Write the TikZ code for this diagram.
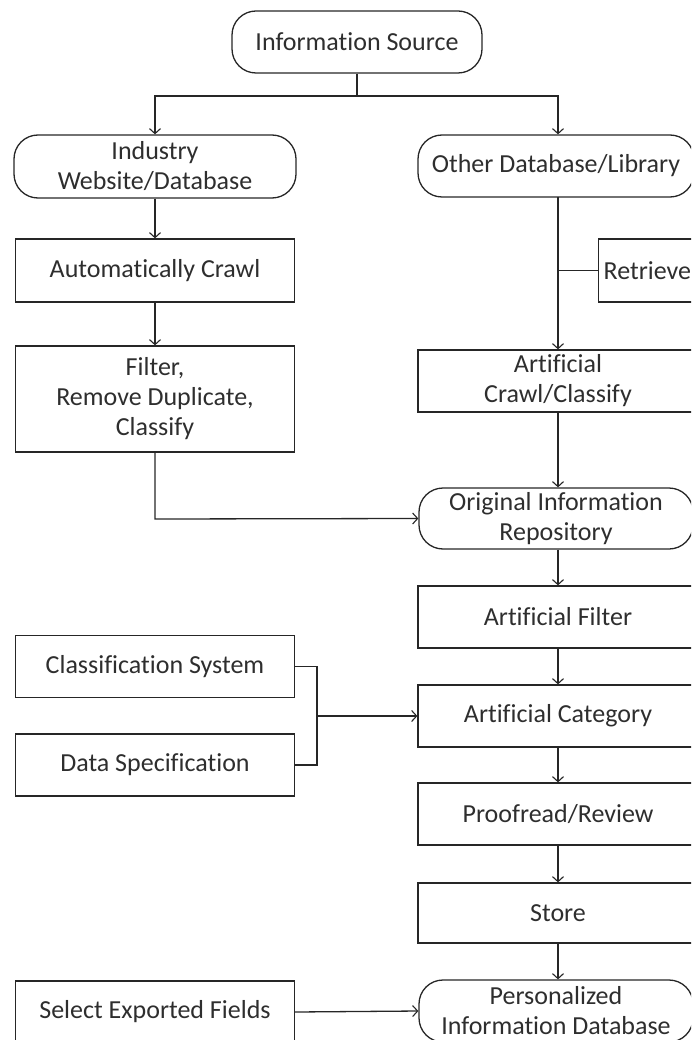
\documentclass[tikz,border=0pt]{standalone}
\usepackage{fontspec}
\setmainfont[Ligatures=NoCommon]{Carlito}
\usetikzlibrary{arrows.meta,calc}
\begin{document}
\begin{tikzpicture}[x=1pt,y=-1pt,
  every node/.style={font=\fontsize{26}{30}\selectfont, text=black!82},
  boxnode/.style={draw=black!85, line width=1.3pt, align=center, inner sep=2pt},
  stadium/.style={boxnode, rounded corners=24pt},
  conn/.style={draw=black!85, line width=1.3pt},
  arr/.style={conn, -{Straight Barb[length=5pt,width=11pt,line width=1.1pt]}}]
\useasboundingbox (0,0) rectangle (691,1040);
\clip (0,0) rectangle (691,1040);
% left column
\node[stadium, minimum width=250pt, minimum height=62pt] (src) at (357,42) {Information Source};
\node[stadium, minimum width=282pt, minimum height=63pt] (ind) at (155,166.5) {Industry\\Website/Database};
\node[boxnode, minimum width=279pt, minimum height=63pt] (auto) at (155,270.5) {Automatically Crawl};
\node[boxnode, minimum width=279pt, minimum height=106pt] (filt) at (155,399) {Filter,\\Remove Duplicate,\\Classify};
\node[boxnode, minimum width=279pt, minimum height=62pt] (cs) at (155,666.5) {Classification System};
\node[boxnode, minimum width=279pt, minimum height=62pt] (ds) at (155,765) {Data Specification};
\node[boxnode, minimum width=279pt, minimum height=62pt] (sef) at (155,1012) {Select Exported Fields};
% right column
\node[stadium, minimum width=276pt, minimum height=62pt] (oth) at (556,166) {Other Database/Library};
\node[boxnode, minimum width=130pt, minimum height=63pt, anchor=west, inner sep=4pt] (retr) at (598,270.5) {\makebox[120pt][l]{Retrieve}};
\node[boxnode, minimum width=280pt, minimum height=62pt] (acc) at (558,381) {Artificial\\Crawl/Classify};
\node[stadium, minimum width=274pt, minimum height=61pt] (orig) at (556,518.5) {Original Information\\Repository};
\node[boxnode, minimum width=280pt, minimum height=62pt] (af) at (558,617) {Artificial Filter};
\node[boxnode, minimum width=280pt, minimum height=62pt] (ac) at (558,716) {Artificial Category};
\node[boxnode, minimum width=280pt, minimum height=62pt] (pr) at (558,814) {Proofread/Review};
\node[boxnode, minimum width=280pt, minimum height=60pt] (st) at (558,913) {Store};
\node[stadium, minimum width=274pt, minimum height=62pt] (pid) at (556,1011) {Personalized\\Information Database};
% connectors
\coordinate (br) at (357,96);
\coordinate (bl) at (155,96);
\coordinate (brr) at (558,96);
\draw[conn] (src.south) -- (br);
\draw[arr] (br) -- (bl) -- (ind.north);
\draw[arr] (br) -- (brr) -- (brr |- oth.north);
\draw[arr] (ind.south) -- (auto.north);
\draw[arr] (auto.south) -- (filt.north);
\coordinate (fj) at (155,519);
\draw[arr] (filt.south) -- (fj) -- (orig.west);
\coordinate (ot) at (558,197);
\coordinate (rj) at (558,270.5);
\draw[arr] (ot) -- (acc.north);
\draw[conn] (rj) -- (retr.west);
\draw[arr] (acc.south) -- (acc.south |- orig.north);
\draw[arr] (acc.south |- orig.south) -- (af.north);
\draw[arr] (af.south) -- (ac.north);
\draw[arr] (ac.south) -- (pr.north);
\draw[arr] (pr.south) -- (st.north);
\draw[arr] (st.south) -- (st.south |- pid.north);
\coordinate (bj) at (317,716);
\draw[conn] (cs.east) -| (bj);
\draw[conn] (ds.east) -| (bj);
\draw[arr] (bj) -- (ac.west);
\draw[arr] (sef.east) -- (pid.west);
\end{tikzpicture}
\end{document}
